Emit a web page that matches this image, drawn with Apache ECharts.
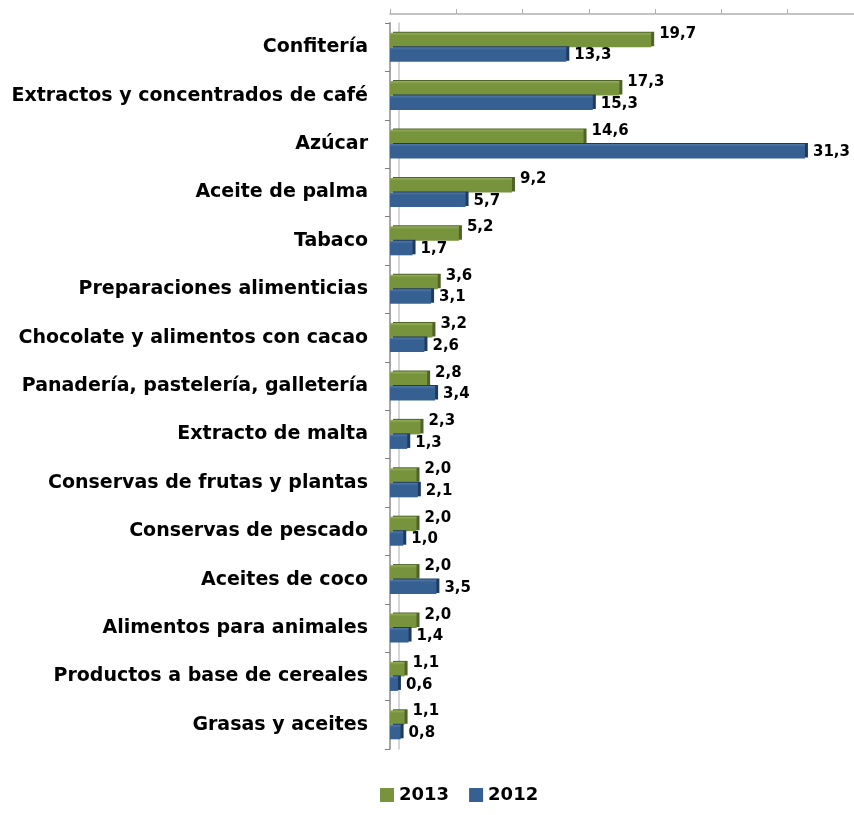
<!DOCTYPE html>
<html>
<head>
<meta charset="utf-8">
<script src="https://cdn.jsdelivr.net/npm/echarts@6/dist/echarts.min.js"></script>
<style>html,body{margin:0;padding:0;background:#fff}#c{width:854px;height:815px}</style>
</head>
<body>
<div id="c"></div>
<script>
const categories = ["Confitería","Extractos y concentrados de café","Azúcar","Aceite de palma","Tabaco","Preparaciones alimenticias","Chocolate y alimentos con cacao","Panadería, pastelería, galletería","Extracto de malta","Conservas de frutas y plantas","Conservas de pescado","Aceites de coco","Alimentos para animales","Productos a base de cereales","Grasas y aceites"];
const values2013 = [19.7,17.3,14.6,9.2,5.2,3.6,3.2,2.8,2.3,2.0,2.0,2.0,2.0,1.1,1.1];
const values2012 = [13.3,15.3,31.3,5.7,1.7,3.1,2.6,3.4,1.3,2.1,1.0,3.5,1.4,0.6,0.8];
const seriesNames = ["2013","2012"];

const font = '"DejaVu Sans", Arial, sans-serif';
const fmt = p => p.value.toFixed(1).replace('.', ',');
function grad(light, base) {
  return new echarts.graphic.LinearGradient(0,0,0,1,[
    {offset:0,color:light},{offset:0.2,color:base},{offset:1,color:base}
  ]);
}
const chart = echarts.init(document.getElementById('c'));
chart.setOption({
  animation:false,
  grid:{left:390,right:0,top:23,bottom:66},
  legend:{
    bottom:6,left:375,itemWidth:14,itemHeight:14,itemGap:20,
    textStyle:{fontFamily:font,fontWeight:'bold',fontSize:18,color:'#000'},
    data:[{name:'2013',icon:'rect',itemStyle:{color:'#77933C'}},{name:'2012',icon:'rect',itemStyle:{color:'#376092'}}]
  },
  xAxis:{
    type:'value',position:'top',min:0,max:35,interval:5,offset:9,
    axisLine:{show:true,lineStyle:{color:'#b0b0b0',width:1.5}},
    axisTick:{show:true,inside:false,length:5,lineStyle:{color:'#b0b0b0'}},
    axisLabel:{show:false},splitLine:{show:false}
  },
  yAxis:[{
    type:'category',inverse:true,data:categories,offset:4,
    axisLine:{show:true,lineStyle:{color:'#a8a8a8',width:2}},
    axisTick:{show:true,length:5,lineStyle:{color:'#808080'}},
    axisLabel:{fontFamily:font,fontWeight:'bold',fontSize:19,color:'#000',margin:18}
  },{
    type:'category',inverse:true,data:categories,position:'left',offset:-9,
    axisLine:{show:true,lineStyle:{color:'#c8c8c8',width:1.5}},
    axisTick:{show:false},axisLabel:{show:false}
  }],
  series:[{
    name:seriesNames[0],type:'bar',data:values2013,barCategoryGap:'40%',barGap:'0%',
    itemStyle:{color:grad('#93b05c','#77933C'),shadowColor:'#4f6228',shadowOffsetX:3,shadowOffsetY:-1,shadowBlur:0},
    label:{show:true,position:'right',distance:8,offset:[0,-6],formatter:fmt,
      fontFamily:font,fontWeight:'bold',fontSize:15,color:'#000'}
  },{
    name:seriesNames[1],type:'bar',data:values2012,
    itemStyle:{color:grad('#5079ab','#376092'),shadowColor:'#1f3a5f',shadowOffsetX:3,shadowOffsetY:-1,shadowBlur:0},
    label:{show:true,position:'right',distance:8,offset:[0,1],formatter:fmt,
      fontFamily:font,fontWeight:'bold',fontSize:15,color:'#000'}
  }]
});
</script>
</body>
</html>
